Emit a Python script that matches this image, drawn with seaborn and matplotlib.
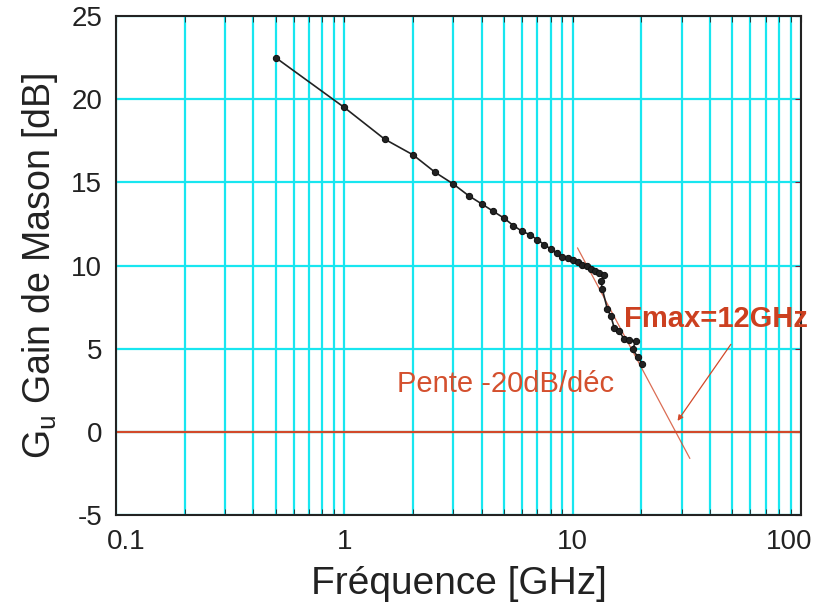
import numpy as np
import pandas as pd
import matplotlib
matplotlib.use("Agg")
import matplotlib.pyplot as plt
import matplotlib.transforms as mtransforms
import seaborn as sns

# ---- data ----
freq_ghz = [0.5, 1.0, 1.5, 2.0, 2.5, 3.0, 3.5, 4.0, 4.5, 5.0, 5.5, 6.0, 6.5, 7.0,
            7.5, 8.0, 8.5, 9.0, 9.5, 10.0, 10.5, 11.0, 11.5, 12.0, 12.5, 13.0,
            13.7, 13.3, 13.5, 14.2, 14.7, 15.2, 16.0, 16.8, 17.6, 18.9, 18.3,
            19.3, 20.2]
gain_db = [22.5, 19.5, 17.6, 16.65, 15.6, 14.9, 14.2, 13.7, 13.25, 12.85, 12.4,
           12.06, 11.85, 11.55, 11.26, 11.0, 10.76, 10.52, 10.44, 10.36, 10.2,
           10.05, 9.95, 9.8, 9.68, 9.55, 9.4, 9.06, 8.56, 7.36, 6.96, 6.26, 6.06,
           5.56, 5.5, 5.46, 4.96, 4.5, 4.06]

slope_f = [10.5, 32.6]
slope_g = [11.06, -1.6]

arrow_start = (49.3, 5.26)
arrow_end = (28.8, 0.66)

x_ticks = [0.1, 1, 10, 100]
x_tick_labels = ["0.1", "1", "10", "100"]
y_ticks = [-5, 0, 5, 10, 15, 20, 25]

df = pd.DataFrame({"f": freq_ghz, "g": gain_db})

sns.set_style("white")
plt.rcParams["font.family"] = ["Liberation Sans", "DejaVu Sans"]
plt.rcParams["mathtext.fontset"] = "custom"
plt.rcParams["mathtext.rm"] = "Liberation Sans"
plt.rcParams["axes.unicode_minus"] = False

fig = plt.figure(figsize=(8.13, 6.09), dpi=100)
ax = fig.add_axes([116 / 813, 1 - 515 / 609, (801 - 116) / 813, 499 / 609])

red = "#d2492a"
cyan = "#18e6f0"

ax.set_xscale("log")
ax.set_xlim(0.1, 100)
ax.set_ylim(-5, 25)

ax.grid(True, which="both", axis="x", color=cyan, lw=1.6)
ax.grid(True, which="major", axis="y", color=cyan, lw=1.6)
ax.set_axisbelow(True)

ax.axhline(0, color=red, lw=1.6, zorder=2)
ax.plot(slope_f, slope_g, color=red, lw=0.9, alpha=0.8, zorder=2)

sns.lineplot(data=df, x="f", y="g", sort=False, estimator=None, ax=ax,
             color="#222222", lw=1.2, marker="o", markersize=4.5,
             markeredgecolor="#111111", markerfacecolor="#222222", zorder=3)

ax.annotate("", xy=arrow_end, xytext=arrow_start,
            arrowprops=dict(arrowstyle="-|>", color=red, lw=0.9,
                            mutation_scale=8, shrinkA=0, shrinkB=0))

ax.text(16.7, 6.8, "Fmax=12GHz", color="#cc4020", fontsize=21,
        fontweight="bold", va="center", ha="left")
ax.text(5.1, 2.9, "Pente -20dB/déc", color="#d4502e", fontsize=21,
        va="center", ha="center")

ax.set_xticks(x_ticks)
ax.set_xticklabels(x_tick_labels)
ax.set_yticks(y_ticks)
ax.tick_params(axis="both", which="major", labelsize=20, colors="#222222",
               direction="in", length=4, top=True, right=True, pad=10)
ax.tick_params(axis="x", which="minor", direction="in", length=4, top=True,
               bottom=True, color="#222222")
ax.tick_params(axis="y", which="major", color="#7a1a3a")

# nudge the end tick labels inward as in the reference
xlabels = ax.get_xticklabels()
xlabels[0].set_transform(xlabels[0].get_transform() +
                         mtransforms.ScaledTranslation(0.10, 0, fig.dpi_scale_trans))
xlabels[-1].set_transform(xlabels[-1].get_transform() +
                          mtransforms.ScaledTranslation(-0.12, 0, fig.dpi_scale_trans))

for s in ax.spines.values():
    s.set_color("#222222")
    s.set_linewidth(1.5)

ax.set_xlabel("Fréquence [GHz]", fontsize=28, color="#222222", labelpad=8)
ax.set_ylabel(r"G$_{\mathregular{u}}$ Gain de Mason [dB]", fontsize=27,
              color="#222222", labelpad=8)

fig.savefig("out.png", dpi=100, facecolor="white")
